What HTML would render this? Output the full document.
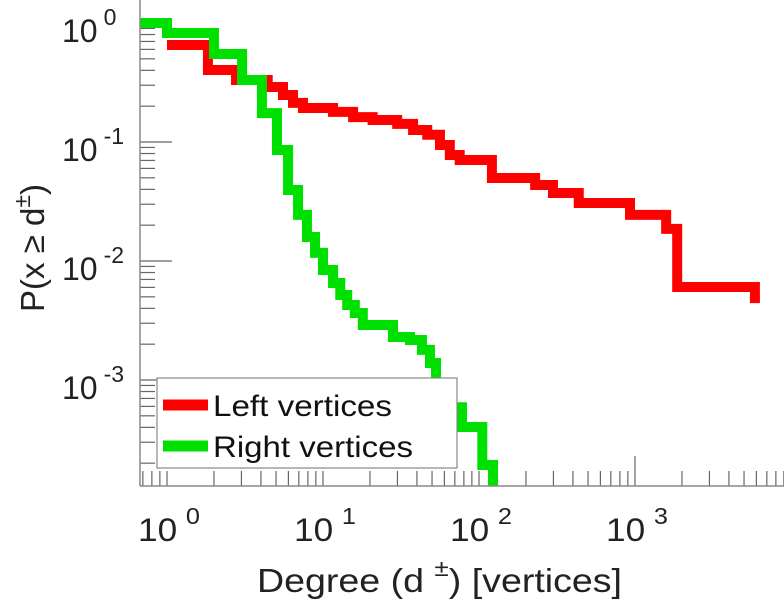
<!DOCTYPE html>
<html><head><meta charset="utf-8"><style>
html,body{margin:0;padding:0;background:#fff;}
svg{display:block;font-family:"Liberation Sans",sans-serif;}
</style></head><body>
<svg id="chart" width="784" height="600" viewBox="0 0 784 600" xmlns="http://www.w3.org/2000/svg">
<defs><clipPath id="plotclip"><rect x="140" y="0" width="644" height="486"/></clipPath></defs>
<g id="ticks"></g>
<g id="series" clip-path="url(#plotclip)"></g>
<line x1="140" y1="0" x2="140" y2="486" stroke="#888" stroke-width="1.5"/>
<line x1="140" y1="486" x2="784" y2="486" stroke="#888" stroke-width="1.5"/>
<g id="labels"></g>
<text x="0" y="0" transform="translate(44,248) rotate(-90)" text-anchor="middle" font-size="33" fill="#222">P(x ≥ d<tspan dy="-14" font-size="23">±</tspan><tspan dy="14">)</tspan></text>
<text x="257" y="592" font-size="33" fill="#222" textLength="365" lengthAdjust="spacingAndGlyphs">Degree (d <tspan dy="-16" font-size="23">  ±</tspan><tspan dy="16">) [vertices]</tspan></text>
<g>
<rect x="157" y="378" width="300" height="90" fill="#fff" stroke="#888" stroke-width="1.2"/>
<line x1="163" y1="405" x2="208" y2="405" stroke="#ff0000" stroke-width="11"/>
<text x="213" y="416" font-size="30" fill="#111" textLength="179" lengthAdjust="spacingAndGlyphs">Left vertices</text>
<line x1="163" y1="446" x2="208" y2="446" stroke="#00e000" stroke-width="11"/>
<text x="213" y="457" font-size="30" fill="#111" textLength="200" lengthAdjust="spacingAndGlyphs">Right vertices</text>
</g>
</svg>
<script>
const redDeg = [1,1.83,2.77,4.42,5.54,6.42,7.44,11.6,15.6,20.8,29.9,37.8,46.6,56.2,65,75.2,121,229,298,436,929,1584,1864,5870];
const redP = [0.653,0.403,0.332,0.290,0.248,0.213,0.193,0.179,0.162,0.153,0.142,0.126,0.115,0.0944,0.0778,0.0706,0.0498,0.0435,0.0373,0.0307,0.0244,0.0186,0.00605,0.00443];
const greenDeg = [0.671,1,2.0,3.03,4.06,5.07,5.97,6.92,7.89,8.89,10,11.6,12.9,14.3,16,18,28.1,36.1,43.1,48.5,53,65.2,77.8,105,123];
const greenP = [1,0.824,0.549,0.332,0.175,0.0857,0.0395,0.0244,0.0159,0.0117,0.0084,0.00653,0.00518,0.00427,0.00366,0.0029,0.0023,0.00217,0.00179,0.00139,0.00091,0.00059,0.000403,0.000193,0.00001];
const xExps = [0,1,2,3];
const yExps = [0,-1,-2,-3];

const NS = "http://www.w3.org/2000/svg";
function xs(d){ return 167 + 156*Math.log10(d); }
function ys(p){ return 23 - 119*Math.log10(p); }
function stepPath(dg, pv){
  let s = "M" + xs(dg[0]) + "," + ys(pv[0]);
  for (let i=1;i<dg.length;i++){ s += " H" + xs(dg[i]) + " V" + ys(pv[i]); }
  return s;
}
const series = document.getElementById("series");
const red = document.createElementNS(NS,"path");
red.setAttribute("d", stepPath(redDeg, redP));
red.setAttribute("fill","none"); red.setAttribute("stroke","#ff0000"); red.setAttribute("stroke-width","10");


series.appendChild(red);
const green = document.createElementNS(NS,"path");
green.setAttribute("d", stepPath(greenDeg, greenP));
green.setAttribute("fill","none"); green.setAttribute("stroke","#00e000"); green.setAttribute("stroke-width","10");


series.appendChild(green);

const ticks = document.getElementById("ticks");
function tick(x1,y1,x2,y2){
  const l = document.createElementNS(NS,"line");
  l.setAttribute("x1",x1); l.setAttribute("y1",y1); l.setAttribute("x2",x2); l.setAttribute("y2",y2);
  l.setAttribute("stroke","#666"); l.setAttribute("stroke-width","1.2");
  
  
  ticks.appendChild(l);
}
for (let e=-1;e<=3;e++){
  for (let m=1;m<=9;m++){
    const x = xs(m*Math.pow(10,e));
    if (x<140 || x>784) continue;
    const len = (m===1 && e===3) ? 30 : 15;
    tick(x,486,x,486-len);
  }
}
for (let e=-4;e<=0;e++){
  for (let m=1;m<=9;m++){
    const y = ys(m*Math.pow(10,e));
    if (y<0 || y>486) continue;
    const len = m===1 ? 32 : 15;
    tick(140,y,140+len,y);
  }
}
const labels = document.getElementById("labels");
xExps.forEach(e=>{
  const t = document.createElementNS(NS,"text");
  t.setAttribute("x", xs(Math.pow(10,e)) - 29);
  t.setAttribute("y", 541);
  t.setAttribute("font-size","32"); t.setAttribute("fill","#222");
  t.setAttribute("textLength","62"); t.setAttribute("lengthAdjust","spacingAndGlyphs");
  t.innerHTML = '10<tspan dx="8" dy="-17" font-size="23">'+e+'</tspan>';
  
  
  labels.appendChild(t);
});
yExps.forEach(e=>{
  const t = document.createElementNS(NS,"text");
  t.setAttribute("x", 62);
  t.setAttribute("y", ys(Math.pow(10,e)) + 19);
  t.setAttribute("font-size","32"); t.setAttribute("fill","#222");
  t.innerHTML = '10<tspan dx="6" dy="-17" font-size="23">'+(e===0?'0':'-'+(-e))+'</tspan>';
  
  
  labels.appendChild(t);
});
</script>
</body></html>
